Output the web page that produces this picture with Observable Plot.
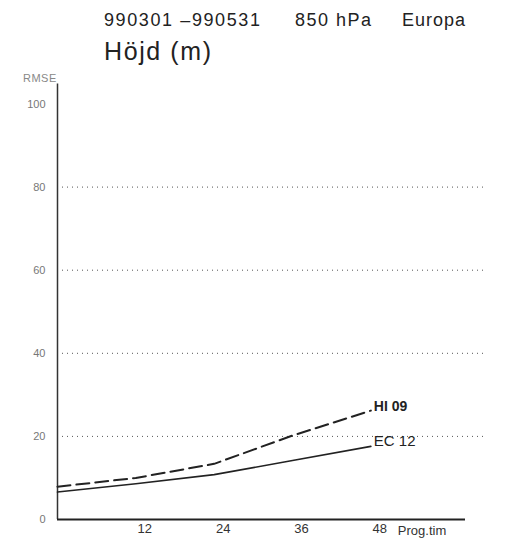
<!DOCTYPE html>
<html>
<head>
<meta charset="utf-8">
<script src="https://cdn.jsdelivr.net/npm/d3@7"></script>
<script src="https://cdn.jsdelivr.net/npm/@observablehq/plot@0.6"></script>
<style>
  html, body { margin: 0; padding: 0; background: #fff; }
  #wrap { position: relative; width: 514px; height: 540px; font-family: "Liberation Sans", Arial, sans-serif; color: #222; }
  .t { position: absolute; white-space: nowrap; line-height: 1; }
  #chart { position: absolute; left: 0; top: 0; }
</style>
</head>
<body>
<div id="wrap">
  <div id="chart"></div>
  <div class="t" style="left:104px;top:11px;font-size:18px;letter-spacing:1.6px;">990301 &#8211;990531</div>
  <div class="t" style="left:295px;top:11px;font-size:18px;letter-spacing:1.5px;">850 hPa</div>
  <div class="t" style="left:402px;top:11px;font-size:18px;letter-spacing:1px;">Europa</div>
  <div class="t" style="left:104px;top:39px;font-size:25px;letter-spacing:1.6px;">Höjd (m)</div>
  <div class="t" style="left:23px;top:73px;font-size:11px;color:#888;letter-spacing:0.5px;">RMSE</div>
</div>
<script>
const hours = [0, 12, 24, 36, 48];
const ec12 = [6.6, 8.6, 10.8, 14.2, 17.6];
const hi09 = [7.9, 10.0, 13.4, 20.2, 26.2];
const seriesNames = ["HI 09", "EC 12"];
const yTicks = [0, 20, 40, 60, 80, 100];
const xTicks = [12, 24, 36, 48];
const xTitle = "Prog.tim";

const ecData = hours.map((h, i) => ({h, v: ec12[i]}));
const hiData = hours.map((h, i) => ({h, v: hi09[i]}));

const plot = Plot.plot({
  width: 514,
  height: 540,
  marginTop: 103.5, marginBottom: 21, marginLeft: 57, marginRight: 49,
  style: {fontFamily: "'Liberation Sans', Arial, sans-serif", background: "transparent", overflow: "visible"},
  x: {domain: [0, 62.5]},
  y: {domain: [0, 100]},
  marks: [
    Plot.ruleY(yTicks.filter(d => d > 0 && d < 100), {stroke: "#555", strokeWidth: 1, strokeDasharray: "1,4", insetLeft: 5, insetRight: -20}),
    Plot.ruleX([0], {stroke: "#333", strokeWidth: 1.5, insetTop: -20}),
    Plot.ruleY([0], {stroke: "#222", strokeWidth: 2}),
    Plot.axisY({ticks: yTicks, tickSize: 0, tickPadding: 12, fill: "#777", fontSize: 11, label: null}),
    Plot.axisX({ticks: xTicks, tickSize: 0, tickPadding: 4, dx: 9, fill: "#333", fontSize: 13, label: null}),
    Plot.text([xTitle], {x: 48, y: 0, dx: 27, dy: 11, textAnchor: "start", fill: "#333", fontSize: 13}),
    Plot.line(hiData, {x: "h", y: "v", stroke: "#222", strokeWidth: 2, strokeDasharray: "13,6"}),
    Plot.line(ecData, {x: "h", y: "v", stroke: "#222", strokeWidth: 1.6}),
    Plot.text([hiData[hiData.length - 1]], {x: "h", y: "v", text: () => seriesNames[0], dx: 3, dy: -4, textAnchor: "start", fontWeight: "bold", fontSize: 14, fill: "#222"}),
    Plot.text([ecData[ecData.length - 1]], {x: "h", y: "v", text: () => seriesNames[1], dx: 3, dy: -5, textAnchor: "start", fontSize: 15, fill: "#222"})
  ]
});
document.getElementById("chart").appendChild(plot);
</script>
</body>
</html>
